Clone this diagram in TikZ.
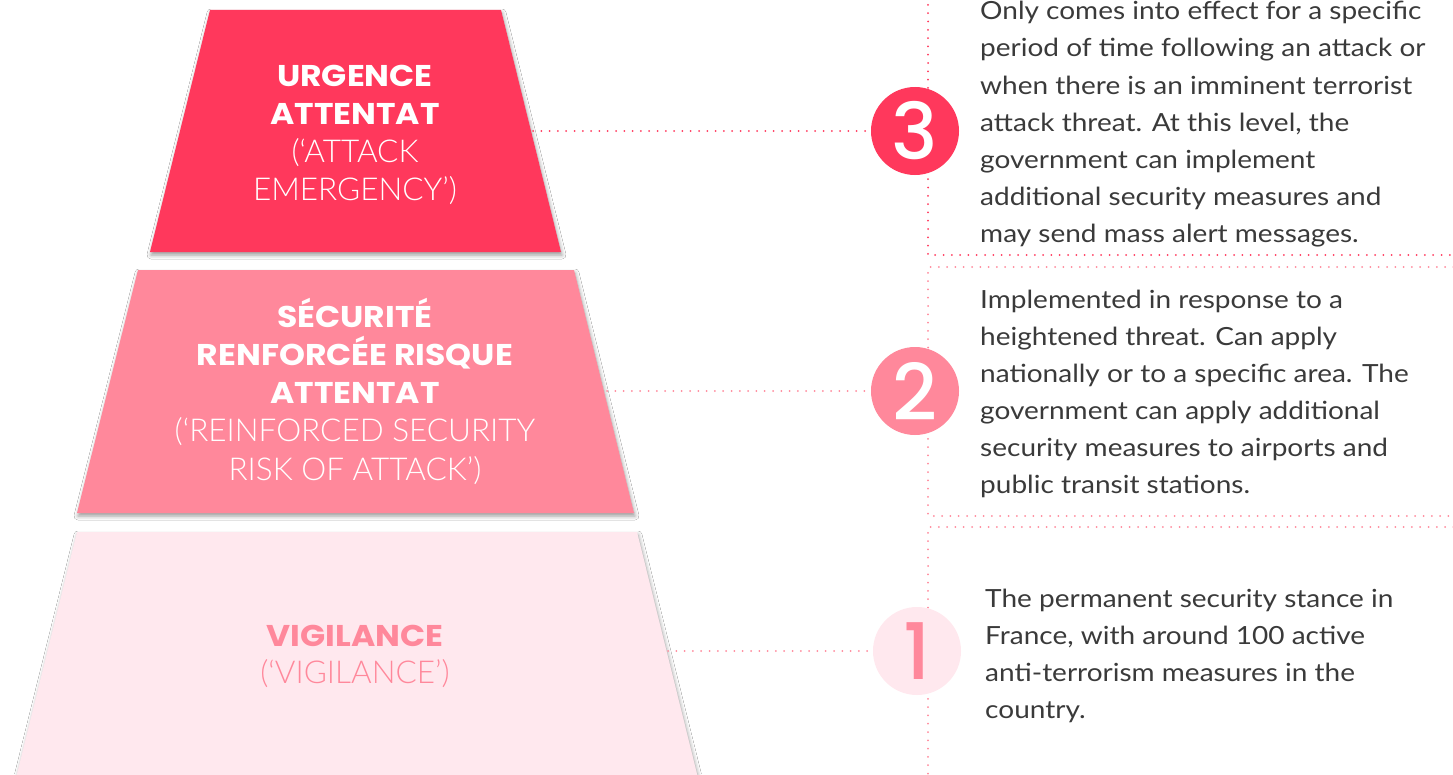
\documentclass[tikz,border=0pt]{standalone}
\usepackage{fontspec}
\setmainfont{Lato}[FakeStretch=1.12]
\newfontfamily\headfont{Poppins Bold}[FakeStretch=1.1]
\newfontfamily\lightfont{Lato Light}
\newfontfamily\digitfont{Poppins Medium}
\usetikzlibrary{shadows.blur}
\definecolor{rausch}{HTML}{FF385C}
\definecolor{pinkmid}{HTML}{FF889B}
\definecolor{pinklight}{HTML}{FFE8EE}
\definecolor{bodygray}{HTML}{3A3A3A}
\newcommand{\headsz}{\headfont\fontsize{30bp}{38bp}\selectfont}
\newcommand{\lightsz}{\lightfont\fontsize{31.5bp}{38bp}\selectfont}
\begin{document}
\begin{tikzpicture}[x=1bp,y=-1bp,
  tier/.style={blur shadow={shadow xshift=1bp,shadow yshift=-3bp,shadow blur radius=4bp,shadow opacity=40}},
  dots/.style={line width=2bp,line cap=round,dash pattern=on 0bp off 8.3bp},
  badge/.style={circle,minimum size=88bp,inner sep=0pt,font=\digitfont\fontsize{78bp}{78bp}\selectfont},
  tiertext/.style={anchor=base,inner sep=0pt},
  bodytext/.style={anchor=base west,inner sep=0pt,text=bodygray,font=\fontsize{25bp}{37bp}\selectfont}
]
\useasboundingbox (0,0) rectangle (1453,774);
\clip (0,0) rectangle (1453,774);
\fill[white] (0,0) rectangle (1453,774);

% tiers
\fill[rausch,tier] (210,10) -- (501,10) -- (561,252) -- (150,252) -- cycle;
\fill[pinkmid,tier] (138,270) -- (574,270) -- (634,513) -- (77,513) -- cycle;
\fill[pinklight,tier] (77,532) -- (637,532) -- (700,786) -- (14,786) -- cycle;

% tier texts
\node[tiertext,text=white] (l3) at (355,86) {\parbox[t]{400bp}{\centering\fontsize{30bp}{38bp}\selectfont
  {\headsz URGENCE\\ATTENTAT}\\{\lightsz (‘ATTACK\\EMERGENCY’)}\par}};
\node[tiertext,text=white] (l2) at (355,327) {\parbox[t]{500bp}{\centering\fontsize{30bp}{38.5bp}\selectfont
  {\headsz SÉCURITÉ\\RENFORCÉE RISQUE\\ATTENTAT}\\{\lightsz (‘REINFORCED SECURITY\\RISK OF ATTACK’)}\par}};
\node[tiertext,text=pinkmid] (l1) at (355,646) {\parbox[t]{500bp}{\centering\fontsize{30bp}{37bp}\selectfont
  {\headsz VIGILANCE}\\{\lightsz (‘VIGILANCE’)}\par}};

% frames
\draw[dots,rausch] (928,-20) -- (928,255) -- (1470,255);
\draw[dots,pinkmid] (1470,267) -- (928,267) -- (928,516) -- (1470,516);
\draw[dots,pinkmid] (1470,527) -- (928,527) -- (928,790);

% badges
\node[badge,fill=rausch,text=white] (c3) at (915,131) {3};
\node[badge,fill=pinkmid,text=white] (c2) at (915,391) {2};
\node[badge,fill=pinklight,text=pinkmid] (c1) at (917,651) {1};

% connectors
\coordinate (e3) at (533,131);
\coordinate (e2) at (607,391);
\coordinate (e1) at (668,651);
\draw[dots,rausch] (e3) -- (c3.west);
\draw[dots,pinkmid] (e2) -- (c2.west);
\draw[dots,pinkmid] (e1) -- (c1.west);

% descriptions
\node[bodytext] (d3) at (980,20) {\parbox[t]{470bp}{\raggedright
Only comes into effect for a specific\\
period of time following an attack or\\
when there is an imminent terrorist\\
attack threat. At this level, the\\
government can implement\\
additional security measures and\\
may send mass alert messages.}};
\node[bodytext] (d2) at (980,308) {\parbox[t]{470bp}{\raggedright
Implemented in response to a\\
heightened threat. Can apply\\
nationally or to a specific area. The\\
government can apply additional\\
security measures to airports and\\
public transit stations.}};
\node[bodytext] (d1) at (985,607) {\parbox[t]{470bp}{\raggedright
The permanent security stance in\\
France, with around 100 active\\
anti-terrorism measures in the\\
country.}};
\end{tikzpicture}
\end{document}
